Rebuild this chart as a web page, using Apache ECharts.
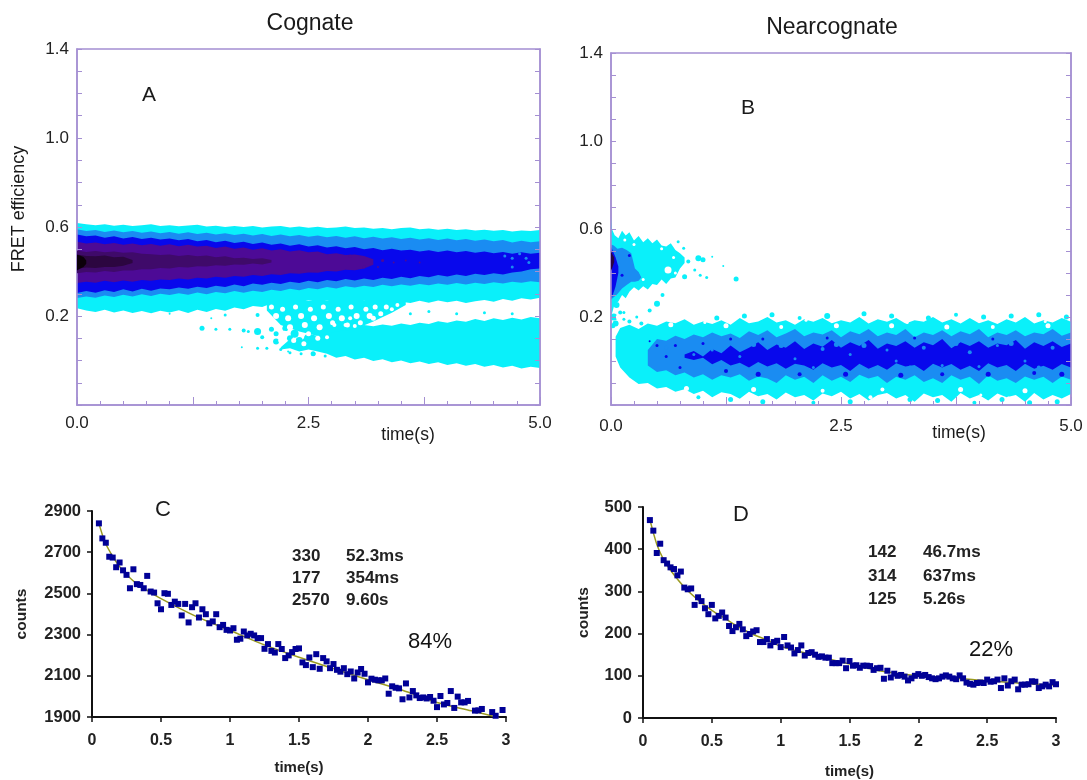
<!DOCTYPE html>
<html>
<head>
<meta charset="utf-8">
<script src="https://cdn.jsdelivr.net/npm/echarts@6/dist/echarts.min.js"></script>
<style>html,body{margin:0;padding:0;background:#fff}#c{width:1087px;height:780px}</style>
</head>
<body>
<div id="c"></div>
<script>
// ---------- Panel A: FRET density, contour band edges ----------
const A_time=[0,.1,.2,.3,.4,.5,.6,.7,.8,.9,1,1.1,1.2,1.3,1.4,1.5,1.6,1.7,1.8,1.9,2,2.1,2.2,2.3,2.4,2.5,2.6,2.7,2.8,2.9,3,3.1,3.2,3.3,3.4,3.5,3.6,3.7,3.8,3.9,4,4.1,4.2,4.3,4.4,4.5,4.6,4.7,4.8,4.9,5];
const A_cyan_hi=[.618,.612,.608,.612,.606,.610,.604,.608,.612,.605,.608,.603,.607,.610,.602,.606,.600,.605,.600,.604,.598,.602,.605,.598,.602,.597,.601,.595,.598,.602,.595,.598,.592,.596,.590,.595,.598,.590,.593,.588,.592,.586,.590,.584,.588,.583,.587,.580,.584,.582,.586];
const A_cyan_lo=[.235,.225,.218,.228,.216,.225,.214,.222,.212,.224,.216,.226,.213,.228,.218,.232,.224,.238,.230,.245,.240,.256,.250,.266,.258,.272,.262,.270,.260,.266,.258,.268,.260,.266,.256,.264,.258,.268,.260,.270,.262,.268,.258,.266,.272,.264,.276,.268,.280,.274,.282];
const A_sky_hi=[.590,.582,.586,.578,.584,.576,.582,.574,.580,.572,.578,.570,.576,.568,.574,.566,.572,.564,.570,.562,.568,.560,.566,.558,.564,.556,.562,.554,.560,.552,.558,.550,.556,.548,.554,.546,.552,.544,.550,.542,.548,.540,.546,.538,.544,.536,.542,.530,.538,.532,.536];
const A_sky_lo=[.281,.288,.282,.292,.285,.296,.288,.298,.290,.300,.294,.302,.296,.306,.298,.308,.302,.312,.304,.314,.308,.318,.312,.322,.316,.326,.320,.330,.324,.334,.328,.336,.330,.340,.334,.342,.336,.344,.338,.346,.340,.348,.342,.350,.344,.352,.346,.354,.350,.356,.352];
const A_blue_hi=[.566,.558,.562,.552,.558,.548,.555,.546,.552,.544,.548,.540,.546,.536,.542,.532,.538,.528,.534,.524,.530,.520,.526,.516,.522,.512,.518,.508,.514,.504,.510,.500,.506,.496,.502,.494,.498,.490,.496,.488,.494,.486,.492,.484,.490,.482,.488,.480,.486,.480,.484];
const A_blue_lo=[.303,.312,.304,.316,.308,.320,.310,.322,.314,.324,.320,.328,.322,.332,.326,.336,.330,.342,.334,.346,.340,.350,.344,.354,.348,.358,.352,.362,.356,.366,.360,.368,.362,.372,.366,.376,.370,.380,.374,.384,.378,.386,.380,.390,.384,.392,.386,.396,.400,.410,.414];
const A_indigo_hi=[.534,.526,.530,.522,.528,.520,.526,.518,.524,.516,.522,.514,.520,.512,.516,.506,.512,.502,.508,.498,.504,.494,.500,.490,.496,.486,.490,.478,.482,.474,.476,.470,.455];
const A_indigo_lo=[.348,.354,.350,.358,.352,.360,.354,.362,.358,.364,.362,.368,.364,.372,.368,.376,.372,.380,.376,.384,.380,.388,.384,.392,.390,.396,.394,.402,.400,.408,.406,.414,.430];
const A_dark_hi=[.494,.488,.492,.486,.490,.484,.486,.480,.478,.474,.476,.470,.474,.468,.472,.464,.468,.460,.462,.456,.460,.452];
const A_dark_lo=[.392,.398,.396,.402,.398,.404,.404,.410,.410,.416,.414,.420,.418,.424,.422,.428,.426,.432,.430,.436,.432,.440];
const A_deep_time=[0,.1,.2,.3,.4,.5,.6];
const A_deep_hi=[.476,.470,.468,.472,.464,.466,.452];
const A_deep_lo=[.412,.418,.416,.420,.420,.426,.438];
const A_black_time=[0,.03,.07,.1];
const A_black_hi=[.475,.472,.465,.45];
const A_black_lo=[.405,.412,.42,.435];
const A_low_time=[2.2,2.3,2.4,2.5,2.6,2.7,2.8,2.9,3,3.1,3.2,3.3,3.4,3.5,3.6,3.7,3.8,3.9,4,4.1,4.2,4.3,4.4,4.5,4.6,4.7,4.8,4.9,5];
const A_low_hi=[.060,.095,.080,.120,.110,.135,.150,.158,.152,.160,.154,.162,.156,.166,.160,.170,.164,.176,.170,.180,.174,.186,.178,.190,.182,.192,.184,.196,.190];
const A_low_lo=[.050,.055,.040,.050,.040,.030,.012,.020,.005,.012,-.002,.006,-.008,.000,-.012,-.004,-.016,-.008,-.020,-.012,-.024,-.016,-.028,-.020,-.032,-.024,-.036,-.028,-.034];
const A_gap_time=[2.05,2.2,2.4,2.6,2.8,3,3.2,3.4,3.55];
const A_gap_hi=[.26,.27,.27,.27,.27,.27,.27,.27,.27];
const A_gap_lo=[.225,.16,.13,.11,.13,.14,.175,.215,.25];
const A_speck_t=[1.35,1.5,1.65,1.8,1.85,1.95,2.0,2.1,2.15,2.15,1.78,1.95,2.05,2.2,2.3,2.35,2.4,2.45,2.5,2.55,2.3,2.25,2.6,1.6,1.0,1.45,1.95,3.6,3.8,4.1,4.4,4.7,2.28,2.42,2.56,2.68];
const A_speck_v=[.145,.14,.14,.135,.13,.13,.105,.14,.085,.12,.06,.055,.055,.05,.035,.12,.09,.15,.10,.03,.10,.145,.14,.205,.21,.19,.205,.21,.22,.21,.215,.21,.04,.03,.03,.02];
const A_speck_s=[5,3,3,4,3,7,4,5,6,5,2,3,3,3,3,8,7,5,9,5,6,6,7,3,2,2,4,3,3,3,3,3,2,3,3,3];
const A_white_t=[2.1,2.15,2.22,2.28,2.3,2.36,2.42,2.46,2.52,2.56,2.62,2.66,2.72,2.76,2.82,2.86,2.92,2.96,3.02,3.06,3.12,3.16,3.22,3.28,3.34,3.4,2.24,2.5,2.78,3.0,3.2,3.46,2.34,2.6,2.9,2.2,2.45,2.7,2.95];
const A_white_v=[.24,.20,.23,.19,.15,.24,.20,.16,.23,.19,.15,.24,.20,.17,.23,.19,.16,.24,.20,.17,.23,.20,.24,.21,.24,.23,.12,.12,.16,.155,.19,.25,.09,.10,.16,.09,.075,.105,.19];
const A_white_s=[5,6,5,6,6,5,6,6,5,6,6,5,6,5,5,6,5,5,6,5,5,6,5,5,5,4,6,5,4,4,5,4,5,5,4,5,5,4,4];
const A_holes_t=[4.62,4.7,4.78,4.85,4.7,4.88];
const A_holes_v=[.47,.46,.48,.46,.42,.44];
const A_holes_s=[3,3,3,3,3,3];
const A_purple_t=[3.3,3.42,3.55,3.7,2.95,3.1,3.25];
const A_purple_v=[.45,.44,.45,.44,.47,.42,.42];
const A_purple_s=[3,2,2,2,3,3,2];
// ---------- Panel B ----------
const B_time=[.05,.1,.2,.3,.4,.5,.6,.7,.8,.9,1,1.1,1.2,1.3,1.4,1.5,1.6,1.7,1.8,1.9,2,2.1,2.2,2.3,2.4,2.5,2.6,2.7,2.8,2.9,3,3.1,3.2,3.3,3.4,3.5,3.6,3.7,3.8,3.9,4,4.1,4.2,4.3,4.4,4.5,4.6,4.7,4.8,4.9,5];
const B_cyan_hi=[.110,.150,.165,.145,.170,.160,.180,.172,.190,.165,.180,.168,.185,.165,.195,.172,.180,.200,.175,.185,.165,.190,.178,.195,.172,.185,.175,.200,.170,.190,.178,.195,.170,.185,.178,.200,.175,.190,.170,.195,.172,.185,.168,.190,.175,.200,.170,.185,.175,.195,.178];
const B_cyan_lo=[.020,-.030,-.075,-.105,-.100,-.125,-.118,-.140,-.128,-.150,-.135,-.165,-.142,-.150,-.172,-.140,-.160,-.150,-.175,-.143,-.165,-.155,-.180,-.148,-.160,-.140,-.170,-.150,-.180,-.155,-.145,-.170,-.155,-.185,-.148,-.165,-.155,-.185,-.145,-.170,-.155,-.180,-.148,-.165,-.155,-.185,-.145,-.175,-.155,-.170,-.150];
const B_sky_hi=[.050,.100,.092,.115,.100,.120,.108,.130,.112,.125,.105,.135,.118,.140,.108,.125,.145,.112,.130,.120,.140,.108,.135,.122,.145,.112,.130,.118,.145,.108,.130,.118,.140,.112,.135,.122,.145,.108,.130,.118,.140,.112,.130,.122,.145,.115,.130];
const B_sky_lo=[-.020,-.050,-.042,-.065,-.052,-.075,-.060,-.085,-.065,-.075,-.060,-.090,-.070,-.080,-.100,-.065,-.085,-.072,-.100,-.065,-.090,-.072,-.095,-.062,-.080,-.068,-.100,-.072,-.085,-.065,-.095,-.078,-.100,-.065,-.085,-.072,-.105,-.065,-.090,-.078,-.100,-.070,-.085,-.072,-.100,-.070,-.085];
const B_blue_hi=[.030,.045,.020,.055,.035,.070,.040,.060,.085,.050,.075,.060,.090,.055,.080,.065,.095,.060,.085,.068,.095,.056,.080,.068,.090,.060,.085,.072,.100,.058,.085,.068,.090,.060,.080,.072,.095,.056,.085,.068,.090,.064,.080];
const B_blue_lo=[.015,.005,.015,-.015,.005,-.020,-.008,-.030,-.005,-.025,-.010,-.035,-.012,-.020,-.040,-.010,-.030,-.018,-.045,-.012,-.035,-.018,-.040,-.010,-.025,-.018,-.045,-.012,-.030,-.014,-.040,-.022,-.045,-.010,-.030,-.018,-.045,-.012,-.035,-.022,-.040,-.014,-.030];
const B_up_time=[0,.01,.04,.08,.12,.16,.2,.25,.3,.35,.4,.45,.5,.55,.6,.65,.7,.75,.8];
const B_up_hi=[.656,.60,.572,.558,.592,.570,.585,.548,.568,.540,.558,.535,.552,.525,.520,.535,.505,.490,.470];
const B_up_lo=[.22,.215,.26,.27,.30,.285,.315,.335,.32,.34,.325,.35,.345,.37,.35,.375,.38,.42,.445];
const B_upsky_time=[0,.03,.07,.12,.17,.22,.26,.3,.33];
const B_upsky_hi=[.53,.525,.51,.515,.505,.49,.42,.405,.38];
const B_upsky_lo=[.28,.29,.305,.33,.345,.36,.36,.365,.38];
const B_upblue_time=[0,.02,.05,.08];
const B_upblue_hi=[.52,.50,.47,.43];
const B_upblue_lo=[.28,.30,.34,.40];
const B_updark_time=[0,.015,.035];
const B_updark_hi=[.50,.485,.47];
const B_updark_lo=[.41,.425,.45];
const B_speck_t=[.03,.05,.02,.14,.2,.28,.33,.42,.5,.56,.73,.79,.84,.8,.91,.95,.97,1.0,1.04,1.1,1.22,1.36,.06,.1,.14,1.15,1.45,1.75,2.05,2.35,2.75,3.05,3.45,3.75,4.05,4.35,4.65,4.95,.95,1.3,1.65,2.2,2.6,3.25,3.55,3.95,4.25,4.55,4.85];
const B_speck_v=[.2,.17,.16,.22,.18,.2,.17,.23,.26,.30,.542,.513,.452,.383,.414,.467,.39,.46,.38,.474,.432,.373,.255,.22,.19,.195,.205,.21,.195,.205,.215,.205,.195,.21,.2,.205,.21,.2,-.165,-.175,-.185,-.19,-.185,-.175,-.18,-.19,-.175,-.19,-.185];
const B_speck_s=[7,6,5,3,4,3,4,4,6,4,3,3,4,5,3,6,3,5,3,2,2,5,6,4,3,5,5,5,4,6,5,5,5,4,5,5,5,5,4,5,5,4,5,5,5,4,5,5,5];
const B_white_t=[.62,.25,.55,.68,.7,.35,.15,.08,1.52,2.12,2.82,3.62,4.32,4.72,1.02,1.92,3.22,4.02,.65,1.25,1.85,2.45,3.05,3.65,4.15,4.75,.82,1.55,2.3,2.95,3.8,4.5];
const B_white_v=[.414,.53,.51,.47,.40,.37,.55,.2,-.155,.185,-.165,.19,-.17,.18,.175,-.16,.175,-.155,.165,.16,.155,.16,.16,.155,.155,.16,-.125,-.13,-.135,-.13,-.13,-.135];
const B_white_s=[7,3,3,3,3,3,3,5,3,3,4,3,4,3,3,3,3,3,5,5,4,5,5,5,4,5,5,5,4,4,5,5];
const B_hole_t=[.6,.9,1.1,1.4,1.7,2,2.3,2.6,2.9,3.1,3.4,3.6,3.9,4.2,4.5,4.8,1.2,2.2,3.0,4.0,1.55,1.85,2.45,2.75,3.25,3.75,4.35,4.65];
const B_hole_v=[.06,.03,.05,.02,.065,.01,.055,.03,.07,.0,.06,-.02,.04,.07,.0,.06,-.03,-.03,.05,-.025,.075,.07,.075,.07,-.03,.08,.08,-.03];
const B_hole_s=[4,3,3,3,4,3,4,3,4,3,4,3,4,3,3,4,3,3,3,3,5,5,5,5,4,5,5,4];
const B_deep_t=[.5,.6,.75,1.3,.42,1.65,2.35,3.3,4.15,.2,.12,1.25,1.6,2.05,2.55,3.15,3.6,4.1,4.6,4.9,.7,1.0];
const B_deep_v=[.07,.02,-.03,.1,.09,.1,.105,.105,.1,.48,.39,-.045,-.06,-.06,-.06,-.065,-.06,-.06,-.055,-.06,.07,.08];
const B_deep_s=[3,3,3,3,2,3,3,3,3,3,3,4,5,4,5,5,4,5,4,5,3,3];
// ---------- Panel C ----------
const C_time=[.05,.075,.1,.125,.15,.175,.2,.225,.25,.275,.3,.325,.35,.375,.4,.425,.45,.475,.5,.525,.55,.575,.6,.625,.65,.675,.7,.725,.75,.775,.8,.825,.85,.875,.9,.925,.95,.975,1,1.025,1.05,1.075,1.1,1.125,1.15,1.175,1.2,1.225,1.25,1.275,1.3,1.325,1.35,1.375,1.4,1.425,1.45,1.475,1.5,1.525,1.55,1.575,1.6,1.625,1.65,1.675,1.7,1.725,1.75,1.775,1.8,1.825,1.85,1.875,1.9,1.925,1.95,1.975,2,2.025,2.05,2.075,2.1,2.125,2.15,2.175,2.2,2.225,2.25,2.275,2.3,2.325,2.35,2.375,2.4,2.425,2.45,2.475,2.5,2.525,2.55,2.575,2.6,2.625,2.65,2.675,2.7,2.725,2.775,2.8,2.825,2.9,2.925,2.975];
const C_counts=[2840,2767,2746,2678,2674,2627,2650,2612,2590,2525,2617,2545,2541,2525,2585,2509,2504,2452,2423,2501,2498,2444,2460,2449,2393,2449,2359,2433,2452,2383,2423,2399,2355,2364,2399,2336,2347,2323,2320,2331,2275,2280,2315,2296,2304,2296,2283,2283,2231,2254,2221,2213,2254,2230,2186,2199,2215,2230,2233,2165,2152,2189,2142,2205,2134,2186,2170,2137,2157,2129,2120,2137,2108,2121,2087,2116,2133,2110,2068,2086,2081,2078,2078,2087,2013,2049,2042,2039,1986,2063,1995,2026,2005,1992,1995,1990,1997,1979,1948,2002,1961,1968,2026,1944,1999,1971,1971,1978,1931,1932,1939,1924,1906,1934];
const C_fit_time=[.05,.075,.1,.15,.2,.3,.4,.5,.75,1,1.25,1.5,1.75,2,2.25,2.5,2.75,2.95];
const C_fit=[2840,2785,2740,2680,2630,2560,2515,2475,2390,2320,2250,2190,2135,2081,2030,1970,1930,1897];
// ---------- Panel D ----------
const D_time=[.05,.075,.1,.125,.15,.175,.2,.225,.25,.275,.3,.325,.35,.375,.4,.425,.45,.475,.5,.525,.55,.575,.6,.625,.65,.675,.7,.725,.75,.775,.8,.825,.85,.875,.9,.925,.95,.975,1,1.025,1.05,1.075,1.1,1.125,1.15,1.175,1.2,1.225,1.25,1.275,1.3,1.325,1.35,1.375,1.4,1.425,1.45,1.475,1.5,1.525,1.55,1.575,1.6,1.625,1.65,1.675,1.7,1.725,1.75,1.775,1.8,1.825,1.85,1.875,1.9,1.925,1.95,1.975,2,2.025,2.05,2.075,2.1,2.125,2.15,2.175,2.2,2.225,2.25,2.275,2.3,2.325,2.35,2.375,2.4,2.425,2.45,2.475,2.5,2.525,2.55,2.575,2.6,2.625,2.65,2.675,2.7,2.725,2.75,2.775,2.8,2.825,2.85,2.875,2.9,2.925,2.95,2.975,3];
const D_counts=[469,444,391,413,374,366,357,353,338,347,309,305,307,268,286,277,260,246,268,236,242,250,238,218,206,215,223,210,194,199,205,208,180,180,187,172,180,183,168,192,172,167,153,161,172,148,154,156,150,145,146,143,143,130,130,130,136,118,135,124,125,119,124,124,123,114,118,119,93,112,96,105,100,102,98,89,94,100,104,100,102,97,94,92,94,98,101,98,94,92,101,94,84,81,79,83,84,83,91,86,87,91,71,94,77,87,91,68,79,79,80,87,86,71,75,79,75,85,80];
const D_fit_time=[.05,.1,.15,.2,.3,.4,.5,.6,.7,.8,.9,1,1.25,1.5,1.75,2,2.25,2.5,2.75,3];
const D_fit=[470,412,375,350,310,280,255,235,215,198,185,170,148,128,110,100,95,88,82,78];
// ---------- Tick labels and text ----------
const contourYLabels=['0.2','0.6','1.0','1.4'];
const contourXLabels=['0.0','2.5','5.0'];
const C_yTicks=[1900,2100,2300,2500,2700,2900];
const D_yTicks=[0,100,200,300,400,500];
const C_stats=[['330','52.3ms'],['177','354ms'],['2570','9.60s']];
const D_stats=[['142','46.7ms'],['314','637ms'],['125','5.26s']];

const COL={cyan:'#0af0fa',sky:'#1a8cf2',blue:'#0808ec',indigo:'#4d0a96',dark:'#3f0a6a',deep:'#2c0640',black:'#0c000a'};
const FRAME='#a48fd2';
const SANS='"Liberation Sans",Arial,sans-serif';

function band(p,times,lo,hi,color,z){
  const rows=times.map((t,i)=>[t,lo[i],hi[i]]);
  return {type:'custom',xAxisIndex:p,yAxisIndex:p,clip:true,silent:true,z:z,animation:false,
    encode:{x:0,y:[1,2]},data:rows,
    renderItem(params,api){
      if(params.dataIndex!==0) return null;
      const top=[],bot=[];
      rows.forEach(r=>{top.push(api.coord([r[0],r[2]]));bot.unshift(api.coord([r[0],r[1]]));});
      return {type:'polygon',shape:{points:top.concat(bot)},style:{fill:color}};
    }};
}
function specks(p,t,v,s,color,z){
  return {type:'scatter',xAxisIndex:p,yAxisIndex:p,silent:true,z:z,animation:false,clip:true,
    data:t.map((x,i)=>[x,v[i],s[i]]),symbol:'circle',symbolSize:d=>d[2],
    itemStyle:{color:color,opacity:1}};
}
function contourX(g,margin){
  return {type:'value',gridIndex:g,min:0,max:5,interval:1.25,z:5,
    axisLine:{show:true,onZero:false,lineStyle:{color:FRAME,width:1.5}},
    axisTick:{show:true,inside:true,length:8,lineStyle:{color:FRAME,width:1}},
    minorTick:{show:true,splitNumber:5,length:4,lineStyle:{color:FRAME,width:1}},
    splitLine:{show:false},minorSplitLine:{show:false},
    axisLabel:{margin:margin,fontFamily:SANS,fontSize:17,color:'#222',showMinLabel:true,showMaxLabel:true,hideOverlap:false,
      formatter:v=>{const s=Number(v).toFixed(1);return contourXLabels.includes(s)?s:'';}}};
}
function contourY(g,side){
  return {type:'value',gridIndex:g,position:side,min:-0.2,max:1.4,interval:0.1,z:5,
    axisLine:{show:true,onZero:false,lineStyle:{color:FRAME,width:1.5}},
    axisTick:{show:true,inside:true,length:5,lineStyle:{color:FRAME,width:1}},
    splitLine:{show:false},
    axisLabel:{show:side==='left',margin:8,fontFamily:SANS,fontSize:17,color:'#222',hideOverlap:false,
      formatter:v=>{const s=Number(v).toFixed(1);return contourYLabels.includes(s)?s:'';}}};
}
function countX(g,gap){
  return {type:'value',gridIndex:g,min:0,max:3,interval:.5,name:'time(s)',nameLocation:'middle',nameGap:gap,
    nameTextStyle:{fontFamily:SANS,fontSize:15,fontWeight:'bold',color:'#222'},
    axisLine:{show:true,onZero:false,lineStyle:{color:'#111',width:2}},
    axisTick:{show:true,length:5,lineStyle:{color:'#111',width:1.5}},
    splitLine:{show:false},
    axisLabel:{margin:16,fontFamily:SANS,fontSize:16,fontWeight:'bold',color:'#222',hideOverlap:false,formatter:v=>String(v)}};
}
function countY(g,lo,hi,ticks,gap){
  return {type:'value',gridIndex:g,min:lo,max:hi,name:'counts',nameLocation:'middle',nameGap:gap,
    nameTextStyle:{fontFamily:SANS,fontSize:15.5,fontWeight:'bold',color:'#222'},
    axisLine:{show:true,onZero:false,lineStyle:{color:'#111',width:2}},
    axisTick:{show:true,length:5,lineStyle:{color:'#111',width:1.5},customValues:ticks},
    splitLine:{show:false},
    axisLabel:{margin:11,fontFamily:SANS,fontSize:16.5,fontWeight:'bold',color:'#222',hideOverlap:false,customValues:ticks,formatter:v=>String(v)}};
}
function points(p,t,v){
  return {type:'scatter',xAxisIndex:p,yAxisIndex:p,z:4,animation:false,symbol:'rect',symbolSize:6,
    data:t.map((x,i)=>[x,v[i]]),itemStyle:{color:'#000096',opacity:1}};
}
function fit(p,t,v){
  return {type:'line',xAxisIndex:p,yAxisIndex:p,z:3,animation:false,smooth:0.3,showSymbol:false,symbol:'none',
    data:t.map((x,i)=>[x,v[i]]),lineStyle:{color:'#9a9a20',width:1.5}};
}
function txt(x,y,s,size,extra){
  return {type:'text',x:x,y:y,z:20,style:Object.assign({text:s,fontFamily:SANS,fontSize:size,fill:'#1a1a1a',align:'left',verticalAlign:'middle'},extra||{})};
}
function stats(rows,x1,x2,ys){
  const out=[];
  rows.forEach((r,i)=>{
    out.push(txt(x1,ys[i],r[0],17,{fontWeight:'bold',fill:'#222'}));
    out.push(txt(x2,ys[i],r[1],17,{fontWeight:'bold',fill:'#222'}));
  });
  return out;
}

const option={
  backgroundColor:'#fff',animation:false,
  title:[
    {text:'Cognate',left:305,top:7,textAlign:'center',textStyle:{fontFamily:SANS,fontSize:23,fontWeight:'normal',color:'#1a1a1a'}},
    {text:'Nearcognate',left:827,top:11,textAlign:'center',textStyle:{fontFamily:SANS,fontSize:23,fontWeight:'normal',color:'#1a1a1a'}}
  ],
  grid:[
    {left:77,top:49,width:463,height:356,show:true,borderColor:FRAME,borderWidth:1.5,backgroundColor:'transparent'},
    {left:611,top:53,width:460,height:352,show:true,borderColor:FRAME,borderWidth:1.5,backgroundColor:'transparent'},
    {left:92,top:511,width:414,height:206},
    {left:643,top:507,width:413,height:211}
  ],
  xAxis:[contourX(0,10),contourX(1,13),countX(2,43),countX(3,46)],
  yAxis:[contourY(0,'left'),contourY(1,'left'),
    countY(2,1900,2900,C_yTicks,62),countY(3,0,500,D_yTicks,51),
    contourY(0,'right'),contourY(1,'right')],
  series:[
    band(0,A_time,A_cyan_lo,A_cyan_hi,COL.cyan,2),
    band(0,A_low_time,A_low_lo,A_low_hi,COL.cyan,2),
    band(0,A_gap_time,A_gap_lo,A_gap_hi,COL.cyan,2),
    specks(0,A_speck_t,A_speck_v,A_speck_s,COL.cyan,2),
    specks(0,A_white_t,A_white_v,A_white_s,'#ffffff',2.5),
    band(0,A_time,A_sky_lo,A_sky_hi,COL.sky,3),
    band(0,A_time,A_blue_lo,A_blue_hi,COL.blue,4),
    specks(0,A_holes_t,A_holes_v,A_holes_s,COL.sky,4.5),
    band(0,A_time.slice(0,A_indigo_hi.length),A_indigo_lo,A_indigo_hi,COL.indigo,5),
    specks(0,A_purple_t,A_purple_v,A_purple_s,COL.indigo,5),
    band(0,A_time.slice(0,A_dark_hi.length),A_dark_lo,A_dark_hi,COL.dark,6),
    band(0,A_deep_time,A_deep_lo,A_deep_hi,COL.deep,7),
    band(0,A_black_time,A_black_lo,A_black_hi,COL.black,8),

    band(1,B_up_time,B_up_lo,B_up_hi,COL.cyan,2),
    band(1,B_time,B_cyan_lo,B_cyan_hi,COL.cyan,2),
    specks(1,B_speck_t,B_speck_v,B_speck_s,COL.cyan,2),
    specks(1,B_white_t,B_white_v,B_white_s,'#ffffff',3),
    band(1,B_upsky_time,B_upsky_lo,B_upsky_hi,COL.sky,4),
    band(1,B_time.slice(4),B_sky_lo,B_sky_hi,COL.sky,4),
    band(1,B_upblue_time,B_upblue_lo,B_upblue_hi,COL.blue,5),
    band(1,B_time.slice(8),B_blue_lo,B_blue_hi,COL.blue,5),
    specks(1,B_hole_t,B_hole_v,B_hole_s,COL.sky,6),
    specks(1,B_deep_t,B_deep_v,B_deep_s,COL.blue,6),
    band(1,B_updark_time,B_updark_lo,B_updark_hi,COL.deep,7),

    fit(2,C_fit_time,C_fit),points(2,C_time,C_counts),
    fit(3,D_fit_time,D_fit),points(3,D_time,D_counts)
  ],
  graphic:{elements:[
    txt(149,95,'A',21,{align:'center'}),
    txt(748,108,'B',21,{align:'center'}),
    txt(163,510,'C',22,{align:'center'}),
    txt(741,515,'D',22,{align:'center'}),
    txt(408,435,'time(s)',17.5,{align:'center'}),
    txt(959,433,'time(s)',17.5,{align:'center'}),
    {type:'text',x:19,y:209,rotation:Math.PI/2,z:20,style:{text:'FRET efficiency',fontFamily:SANS,fontSize:18,fill:'#1a1a1a',align:'center',verticalAlign:'middle'}},
    txt(408,642,'84%',22,{fill:'#111'}),
    txt(969,650,'22%',22,{fill:'#111'}),
    ...stats(C_stats,292,346,[556,578,600]),
    ...stats(D_stats,868,923,[552,576,599])
  ]}
};
echarts.init(document.getElementById('c'),null,{renderer:'canvas'}).setOption(option);
</script>
</body>
</html>
